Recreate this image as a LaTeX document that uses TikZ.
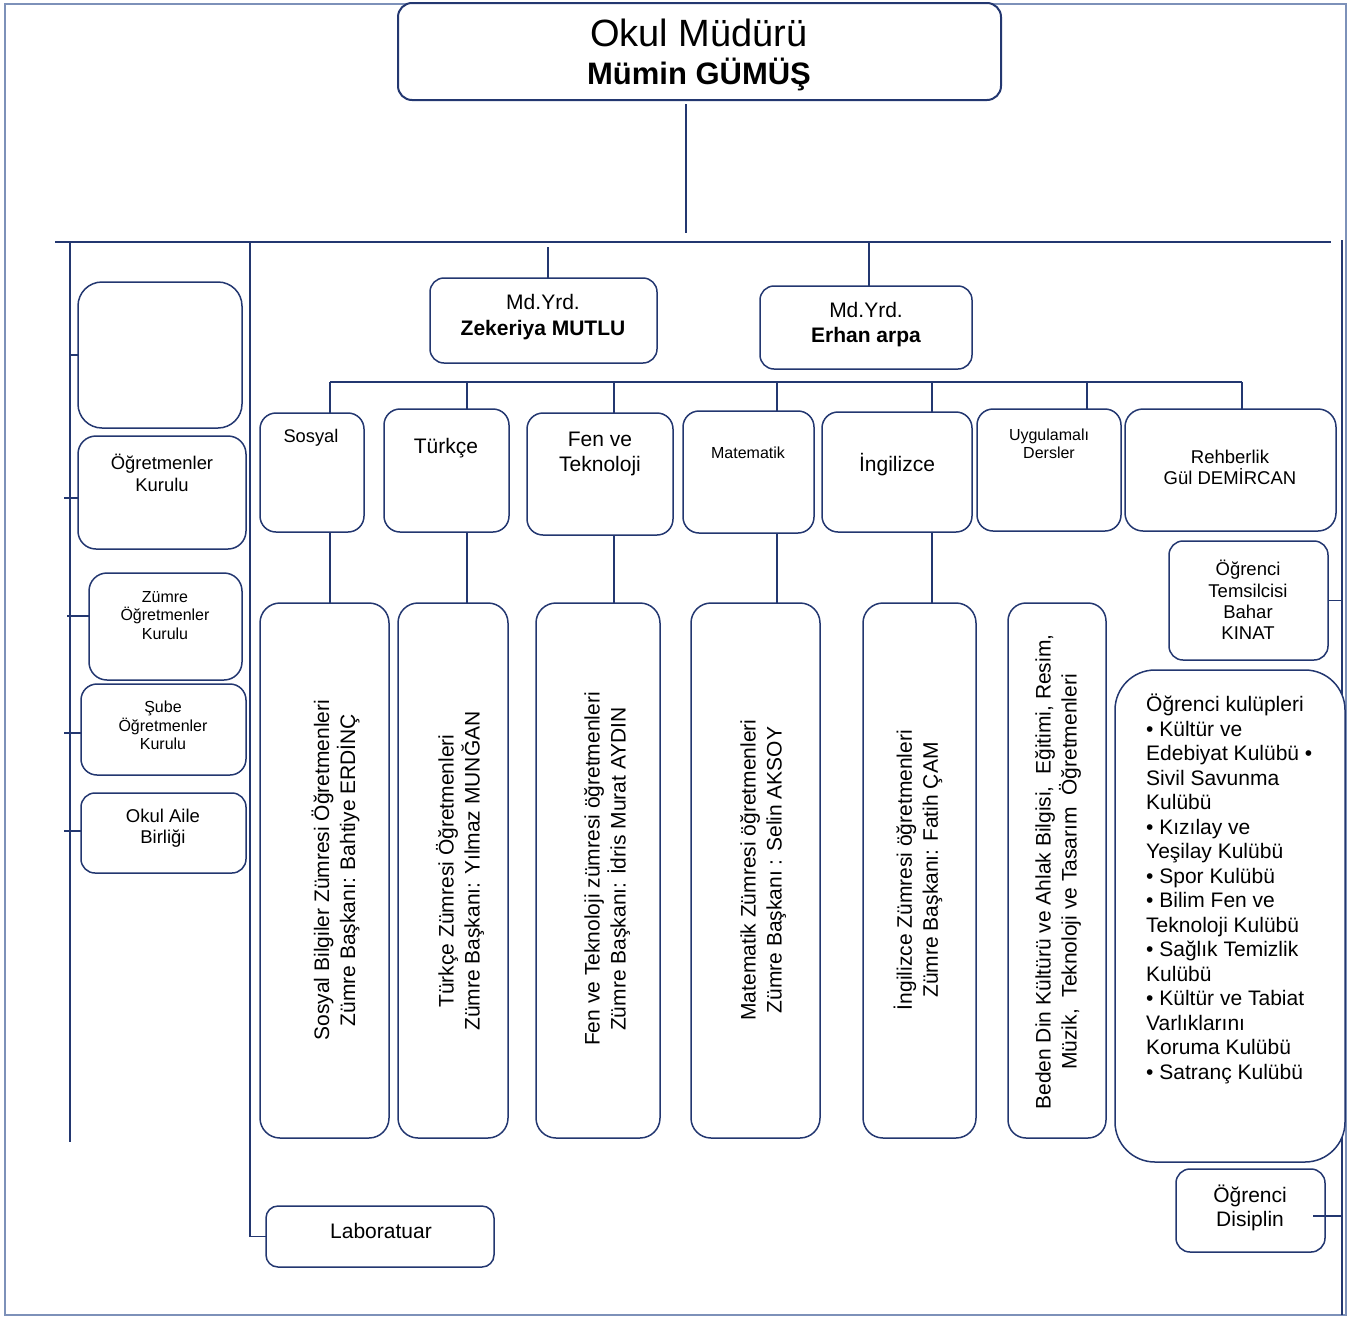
\documentclass[tikz,border=0pt]{standalone}
\usepackage{fontspec}
\setmainfont{Liberation Sans}
\definecolor{navy}{RGB}{35,55,112}
\definecolor{framec}{RGB}{125,145,185}
\newcommand\fsz[2]{\fontsize{#1}{#2}\selectfont}
\newcommand\orgbox[6][]{\node[box,#1,minimum width={(#5-#3)*1pt},minimum height={(#6-#4)*1pt}] (#2) at ({(#3+#5)/2},{(#4+#6)/2}) {};}
\tikzset{
  box/.style={draw=navy, line width=1.5pt, rounded corners=15pt, fill=white, inner sep=0pt, outer sep=0pt},
  conn/.style={draw=navy, line width=1.5pt},
  txt/.style={align=center, inner sep=0pt, text=black},
  vtxt/.style={align=center, inner sep=0pt, text=black, rotate=90, font=\fsz{21}{26}},
}
\begin{document}
\begin{tikzpicture}[x=1pt,y=-1pt]
\useasboundingbox (0,0) rectangle (1348,1317);
\draw[framec, line width=1.3pt] (5,4) rectangle (1346,1315);

% ---- top: Okul Müdürü
\orgbox[line width=2pt,rounded corners=14pt]{mudur}{398}{3}{1001}{100}
\node[txt,font=\fsz{38}{40}] (mudurA) at (699,33) {Okul Müdürü};
\node[txt,font=\fsz{31}{34}\bfseries] (mudurB) at (699,74) {Mümin GÜMÜŞ};

% main bus
\coordinate (busL) at (55,242);
\coordinate (busR) at (1331,242);
\draw[conn] (busL) -- (busR);
\coordinate (mdrop) at (686,233);
\draw[conn, shorten <=4pt] (mdrop |- mudur.south) -- (mdrop);

% ---- left column
\coordinate (lvT) at (70,242);
\coordinate (lvB) at (70,1142);
\draw[conn] (lvT) -- (lvB);
\orgbox[rounded corners=24pt]{bosk}{78}{282}{242}{428}
\orgbox[rounded corners=18pt]{ogk}{78}{436}{246}{549}
\orgbox[rounded corners=18pt]{zok}{89}{573}{242}{680}
\orgbox[rounded corners=16pt]{sok}{81}{684}{246}{775}
\orgbox[rounded corners=14pt]{oab}{81}{793}{246}{873}
\draw[conn] (bosk.west) -- (bosk.west -| lvT);
\draw[conn] ([yshift=-5.5pt]ogk.west) -- ++(-14,0);
\draw[conn] ([yshift=10.5pt]zok.west) -- ++(-22,0);
\draw[conn] ([yshift=-3.5pt]sok.west) -- ++(-17,0);
\draw[conn] ([yshift=2pt]oab.west) -- ++(-17,0);
\node[txt,font=\fsz{18.4}{22}] (ogkt) at (162,473) {Öğretmenler\\Kurulu};
\node[txt,font=\fsz{16}{18.5}] (zokt) at (165,615.5) {Zümre\\Öğretmenler\\Kurulu};
\node[txt,font=\fsz{16}{18.5}] (sokt) at (163,725.5) {Şube\\Öğretmenler\\Kurulu};
\node[txt,font=\fsz{18.5}{21}] (oabt) at (163,828.5) {Okul Aile\\Birliği};

% ---- second vertical and Laboratuar
\coordinate (v2T) at (250,242);
\orgbox[rounded corners=12pt]{lab}{266}{1206}{494}{1267}
\draw[conn] (v2T) |- (lab.west);
\node[txt,font=\fsz{21}{24}] (labt) at (381,1231) {Laboratuar};

% ---- Md.Yrd. boxes
\orgbox[rounded corners=14pt]{zek}{430}{278}{657}{363}
\orgbox[rounded corners=14pt]{erh}{760}{286}{972}{369}
\coordinate (zkc) at (548,247);
\draw[conn] (zkc) -- (zkc |- zek.north);
\coordinate (erc) at (869,242);
\draw[conn] (erc) -- (erc |- erh.north);
\node[txt,font=\fsz{21}{26}] (zekt) at (543,317) {Md.Yrd.\\\textbf{Zekeriya MUTLU}};
\node[txt,font=\fsz{21}{25}] (erht) at (866,324.5) {Md.Yrd.\\\textbf{Erhan arpa}};

% ---- second bus and branch boxes
\coordinate (b2L) at (330,382);
\coordinate (b2R) at (1242,382);
\draw[conn] (b2L) -- (b2R);
\orgbox[rounded corners=16pt]{sos}{260}{413}{364}{532}
\orgbox[rounded corners=16pt]{tur}{384}{409}{509}{532}
\orgbox[rounded corners=16pt]{fen}{527}{413}{673}{535}
\orgbox[rounded corners=16pt]{mat}{683}{411}{814}{533}
\orgbox[rounded corners=16pt]{ing}{822}{412}{972}{532}
\orgbox[rounded corners=16pt]{uyg}{977}{409}{1121}{531}
\orgbox[rounded corners=18pt]{reh}{1125}{409}{1336}{531}
\foreach \x/\n in {330/sos,467/tur,614/fen,777/mat,932/ing,1087/uyg,1242/reh}{
  \coordinate (d-\n) at (\x,382);
  \draw[conn] (d-\n) -- (d-\n |- \n.north);
}
\node[txt,font=\fsz{18.3}{21}] (sost) at (311,438) {Sosyal};
\node[txt,font=\fsz{21}{24}] (turt) at (446,448) {Türkçe};
\node[txt,font=\fsz{21}{25}] (fent) at (600,453.5) {Fen ve\\Teknoloji};
\node[txt,font=\fsz{16}{18}] (matt) at (748,453) {Matematik};
\node[txt,font=\fsz{21}{24}] (ingt) at (897,465) {İngilizce};
\node[txt,font=\fsz{16}{18}] (uygt) at (1049,444) {Uygulamalı\\Dersler};
\node[txt,font=\fsz{18.5}{21}] (reht) at (1230,467.5) {Rehberlik\\Gül DEMİRCAN};

% ---- tall boxes
\orgbox[rounded corners=20pt]{sosB}{260}{603}{389}{1138}
\orgbox[rounded corners=20pt]{turB}{398}{603}{508}{1138}
\orgbox[rounded corners=20pt]{fenB}{536}{603}{660}{1138}
\orgbox[rounded corners=20pt]{matB}{691}{603}{820}{1138}
\orgbox[rounded corners=20pt]{ingB}{863}{603}{976}{1138}
\orgbox[rounded corners=18pt]{bedB}{1008}{603}{1106}{1138}
\foreach \n in {sos,tur,fen,mat,ing}{
  \draw[conn] (d-\n |- \n.south) -- (d-\n |- \n B.north);
}
\node[vtxt] (sosBt) at (335.5,870) {Sosyal Bilgiler Zümresi Öğretmenleri\\Zümre Başkanı: Bahtiye ERDİNÇ};
\node[vtxt] (turBt) at (460,871) {Türkçe Zümresi Öğretmenleri\\Zümre Başkanı: Yılmaz MUNĞAN};
\node[vtxt] (fenBt) at (607,869) {Fen ve Teknoloji zümresi öğretmenleri\\Zümre Başkanı: İdris Murat AYDIN};
\node[vtxt] (matBt) at (763,870) {Matematik Zümresi öğretmenleri\\Zümre Başkanı : Selin AKSOY};
\node[vtxt] (ingBt) at (918,870) {İngilizce Zümresi öğretmenleri\\Zümre Başkanı: Fatih ÇAM};
\node[vtxt] (bedBt) at (1058,872) {Beden Din Kültürü ve Ahlak Bilgisi,~ Eğitimi, Resim,\\Müzik,~ Teknoloji ve Tasarım~ Öğretmenleri};

% ---- right column
\coordinate (rvT) at (1342,240);
\coordinate (rvB) at (1342,1315);
\draw[conn] (rvT) -- (rvB);
\orgbox[rounded corners=14pt]{tem}{1169}{541}{1328}{660}
\orgbox[rounded corners=40pt]{kul}{1115}{670}{1345}{1162}
\orgbox[rounded corners=14pt]{dis}{1176}{1169}{1325}{1252}
\draw[conn] (tem.east) -- (tem.east -| rvT);
\coordinate (dtk) at (1313,1216);
\draw[conn] (dtk) -- (dtk -| rvT);
\node[txt,font=\fsz{18.5}{21.3}] (temt) at (1248,600) {Öğrenci\\Temsilcisi\\Bahar\\KINAT};
\node[txt,font=\fsz{21}{24}] (dist) at (1250,1208) {Öğrenci\\Disiplin};
\node[txt,align=left,anchor=north west,font=\fsz{21}{24.5}] (kult) at (1146,694) {Öğrenci kulüpleri\\• Kültür ve\\Edebiyat Kulübü •\\Sivil Savunma\\Kulübü\\• Kızılay ve\\Yeşilay Kulübü\\• Spor Kulübü\\• Bilim Fen ve\\Teknoloji Kulübü\\• Sağlık Temizlik\\Kulübü\\• Kültür ve Tabiat\\Varlıklarını\\Koruma Kulübü\\• Satranç Kulübü};
\end{tikzpicture}
\end{document}
